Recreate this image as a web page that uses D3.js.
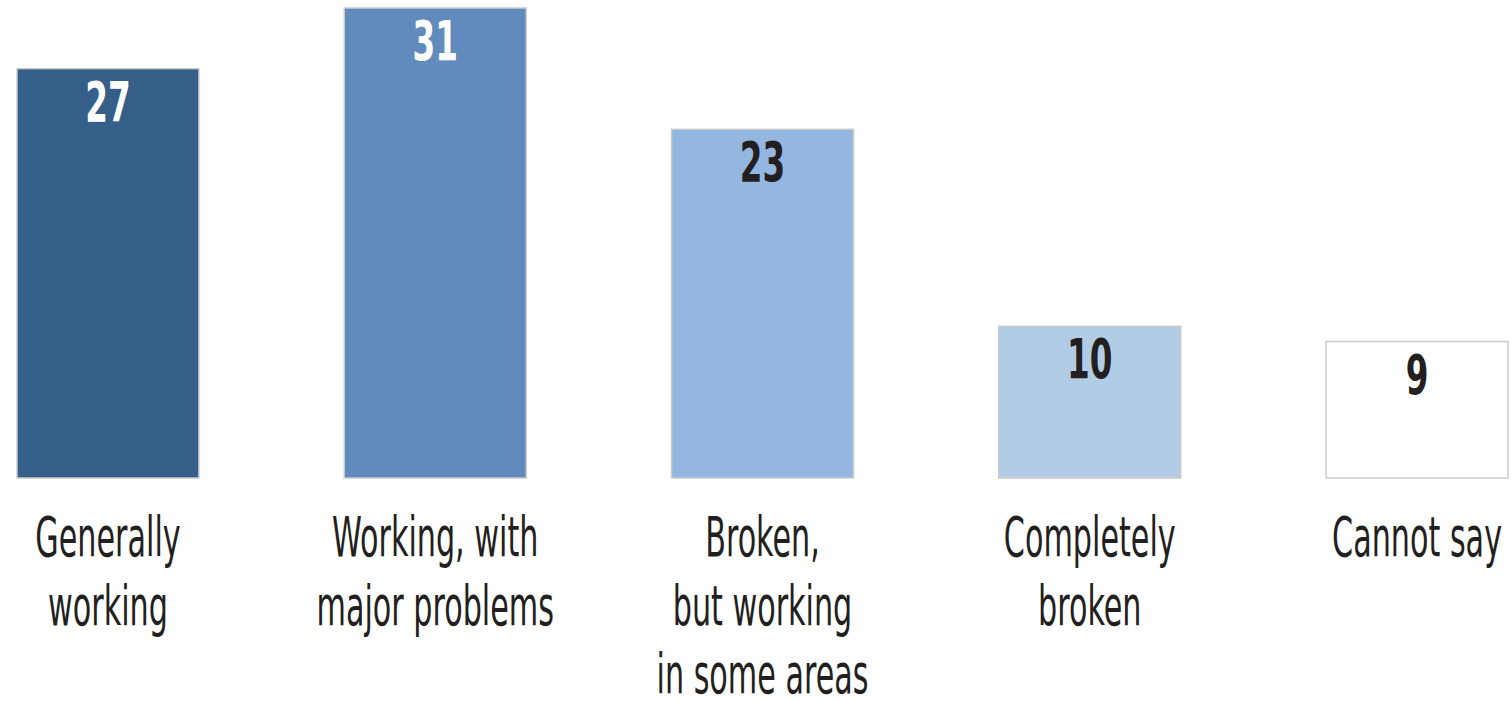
<!DOCTYPE html>
<html>
<head>
<meta charset="utf-8">
<script src="https://cdn.jsdelivr.net/npm/d3@7"></script>
<style>
  html, body { margin: 0; padding: 0; background: #fff; }
</style>
</head>
<body>
<script>
// data
const categories = ["Generally working", "Working, with major problems", "Broken, but working in some areas", "Completely broken", "Cannot say"];
const labelLines = [["Generally", "working"], ["Working, with", "major problems"], ["Broken,", "but working", "in some areas"], ["Completely", "broken"], ["Cannot say"]];
const values = [27, 31, 23, 10, 9];
const fills = ["#355f88", "#628bbd", "#93b7e1", "#b3cce5", "#ffffff"];
const valueColors = ["#ffffff", "#ffffff", "#231f20", "#231f20", "#231f20"];

const width = 1512, height = 701;
const baseY = 478;

const svg = d3.select("body").append("svg")
    .attr("width", width)
    .attr("height", height)
    .style("font-family", "'DejaVu Sans Condensed', 'Liberation Sans Narrow', sans-serif");

const x = d3.scaleBand()
    .domain(categories)
    .range([17, 1508])
    .paddingInner(0.444)
    .paddingOuter(0);

const y = d3.scaleLinear()
    .domain([0, 31])
    .range([baseY, 8]);

const data = categories.map((c, i) => ({cat: c, val: values[i], lines: labelLines[i], fill: fills[i], tc: valueColors[i]}));

// bars
svg.append("g")
    .selectAll("rect")
    .data(data)
    .join("rect")
    .attr("x", d => x(d.cat))
    .attr("y", d => y(d.val))
    .attr("width", x.bandwidth())
    .attr("height", d => baseY - y(d.val))
    .attr("fill", d => d.fill)
    .attr("stroke", "#cbcbcb")
    .attr("stroke-width", 1.5);

// values inside bars
svg.append("g")
    .selectAll("text")
    .data(data)
    .join("text")
    .attr("transform", d => `translate(${x(d.cat) + x.bandwidth() / 2},${y(d.val) + 52}) scale(0.66,1)`)
    .attr("text-anchor", "middle")
    .attr("font-weight", "bold")
    .attr("font-size", 55)
    .attr("fill", d => d.tc)
    .text(d => d.val);

// category labels
const lab = svg.append("g")
    .selectAll("g")
    .data(data)
    .join("g")
    .attr("transform", d => `translate(${x(d.cat) + x.bandwidth() / 2},0)`);

lab.selectAll("text")
    .data(d => d.lines)
    .join("text")
    .attr("transform", (l, i) => `translate(0,${556 + i * 68.5}) scale(0.6,1)`)
    .attr("text-anchor", "middle")
    .attr("font-size", 56)
    .attr("fill", "#231f20")
    .text(l => l);
</script>
</body>
</html>
